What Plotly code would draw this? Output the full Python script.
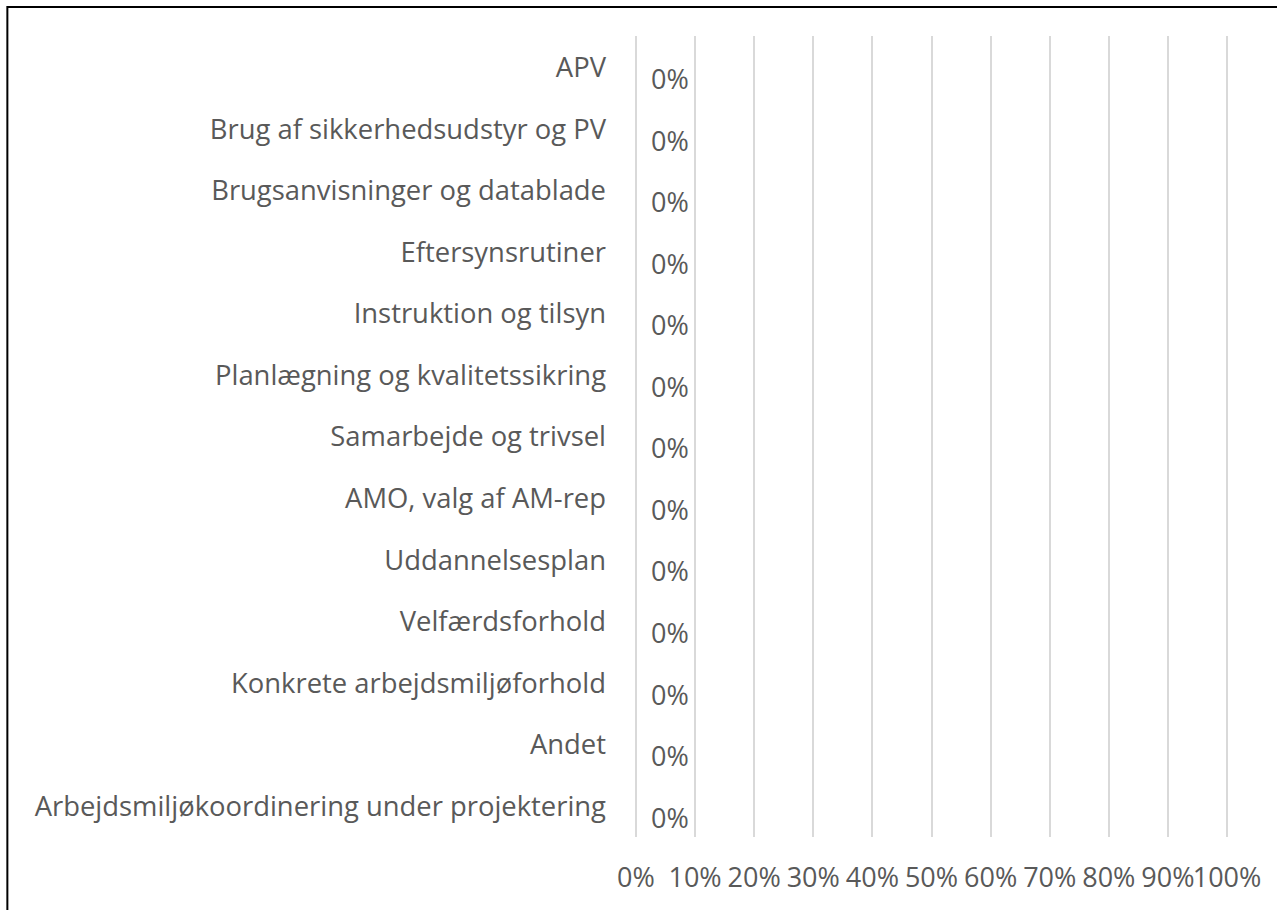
import plotly.graph_objects as go

categories = [
    "APV",
    "Brug af sikkerhedsudstyr og PV",
    "Brugsanvisninger og datablade",
    "Eftersynsrutiner",
    "Instruktion og tilsyn",
    "Planlægning og kvalitetssikring",
    "Samarbejde og trivsel",
    "AMO, valg af AM-rep",
    "Uddannelsesplan",
    "Velfærdsforhold",
    "Konkrete arbejdsmiljøforhold",
    "Andet",
    "Arbejdsmiljøkoordinering under projektering",
]
values = [0, 0, 0, 0, 0, 0, 0, 0, 0, 0, 0, 0, 0]
tick_values = [0, 0.1, 0.2, 0.3, 0.4, 0.5, 0.6, 0.7, 0.8, 0.9, 1.0]
tick_labels = ["0%", "10%", "20%", "30%", "40%", "50%", "60%", "70%", "80%", "90%", "100%"]

W, H = 1277, 910
PAD = 0.005
X0, X100 = 636, 1227          # pixel positions of 0% and 100%
UNIT = X100 - X0
L = X0 - PAD * UNIT
R = X100 + PAD * UNIT
T, B = 35.5, 837

fig = go.Figure()
fig.add_trace(go.Bar(
    y=categories, x=values, orientation="h",
    marker=dict(color="#4472C4", line=dict(width=0)),
    showlegend=False, hoverinfo="x+y",
))

for c, v in zip(categories, values):
    fig.add_annotation(
        x=v, y=c, xref="x", yref="y", text=f"{v:.0%}", showarrow=False,
        xanchor="left", yanchor="middle", xshift=13, yshift=-11,
        font=dict(family="Open Sans", size=27, color="#595959"),
    )

pw = R - L
ph = B - T
def px_x(px):
    return (px - L) / pw
def px_y(py):
    return (B - py) / ph

fig.add_shape(
    type="rect", xref="paper", yref="paper",
    x0=px_x(7.5), x1=px_x(1300), y0=px_y(6.5), y1=px_y(940),
    line=dict(color="black", width=2), fillcolor="rgba(0,0,0,0)", layer="above",
)

fig.update_layout(
    width=W, height=H,
    margin=dict(l=L, r=W - R, t=T, b=H - B, pad=0),
    paper_bgcolor="white", plot_bgcolor="white",
    bargap=0.5,
    xaxis=dict(
        range=[-PAD, 1 + PAD], tickvals=tick_values, ticktext=tick_labels,
        showgrid=True, gridcolor="#d9d9d9", gridwidth=2,
        zeroline=False, showline=False, ticks="", tickangle=0,
        tickfont=dict(family="Open Sans", size=27, color="#595959"),
        ticklabelstandoff=22, fixedrange=True,
    ),
    yaxis=dict(
        categoryorder="array", categoryarray=categories, autorange="reversed",
        showgrid=False, zeroline=False, showline=False, ticks="",
        tickfont=dict(family="Open Sans", size=27.4, color="#595959"),
        ticklabelstandoff=26, fixedrange=True,
    ),
)

fig.write_html(
    "out.html",
    config={"displayModeBar": False},
    post_script="document.body.style.margin='0';document.body.style.overflow='hidden';",
)
